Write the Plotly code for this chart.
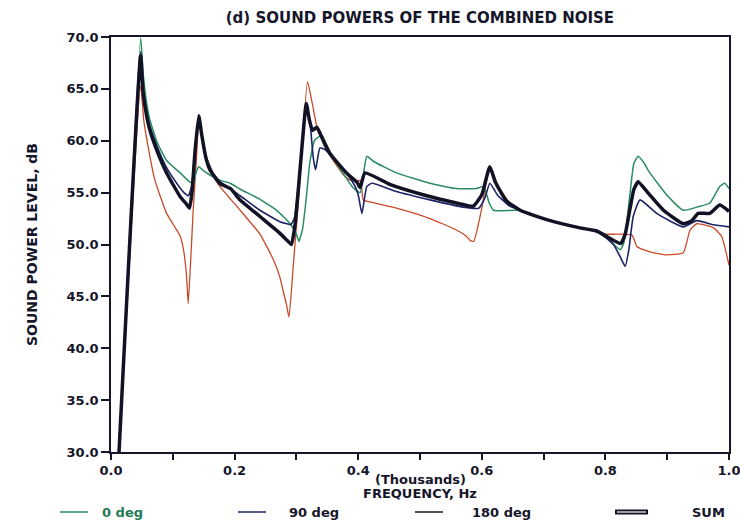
import plotly.graph_objects as go

# ---- data (frequency in thousands of Hz, sound power level in dB) ----
freq_0deg = [0.013, 0.048, 0.052, 0.058, 0.063, 0.075, 0.090, 0.110, 0.128, 0.133, 0.138, 0.142, 0.150,
             0.160, 0.176, 0.193, 0.210, 0.240, 0.270, 0.290, 0.300, 0.304, 0.310, 0.316, 0.322, 0.330,
             0.338, 0.345, 0.354, 0.375, 0.390, 0.403, 0.409, 0.414, 0.425, 0.462, 0.516, 0.559, 0.592,
             0.603, 0.612, 0.619, 0.662, 0.705, 0.759, 0.786, 0.805, 0.824, 0.830, 0.840, 0.846, 0.853,
             0.862, 0.872, 0.899, 0.926, 0.948, 0.969, 0.985, 0.993, 1.0]
spl_0deg = [30, 69.9, 66.5, 63.5, 62.0, 59.8, 58.1, 57.0, 56.0, 55.8, 57.0, 57.5, 57.1,
            56.7, 56.2, 55.9, 55.3, 54.4, 53.2, 52.0, 51.0, 50.3, 51.5, 54.5, 58.0, 60.1,
            60.4, 59.6, 58.8, 56.9, 55.6, 55.0, 57.0, 58.5, 58.0, 56.9, 55.9, 55.4, 55.4,
            55.6, 54.0, 53.3, 53.3, 52.4, 51.6, 51.2, 50.5, 49.5, 50.2, 55.0, 57.8, 58.5,
            57.9, 56.9, 54.8, 53.3, 53.6, 54.0, 55.6, 55.9, 55.4]

freq_90deg = [0.013, 0.048, 0.052, 0.058, 0.063, 0.075, 0.090, 0.110, 0.120, 0.125, 0.130, 0.136, 0.142,
              0.148, 0.155, 0.165, 0.176, 0.209, 0.241, 0.273, 0.285, 0.291, 0.297, 0.306, 0.316, 0.322,
              0.327, 0.331, 0.338, 0.345, 0.354, 0.381, 0.395, 0.400, 0.406, 0.414, 0.422, 0.462, 0.516,
              0.570, 0.595, 0.605, 0.613, 0.625, 0.645, 0.662, 0.705, 0.759, 0.786, 0.813, 0.824, 0.832,
              0.838, 0.845, 0.856, 0.883, 0.926, 0.948, 0.975, 1.0]
spl_90deg = [30, 68.6, 65.0, 62.6, 61.4, 59.4, 57.4, 55.6, 54.9, 54.7, 55.5, 58.5, 62.2,
             60.3, 58.3, 56.9, 56.1, 54.7, 53.3, 52.2, 52.0, 51.9, 52.6, 57.5, 63.4, 61.8,
             58.5, 57.2, 59.3, 59.2, 58.7, 56.9, 55.6, 54.8, 53.0, 55.6, 55.9, 55.1, 54.3,
             53.6, 53.5, 54.5, 55.9, 54.8, 53.7, 53.3, 52.4, 51.6, 51.3, 50.0, 48.8, 47.9,
             49.5, 52.7, 54.3, 53.0, 51.7, 52.3, 51.9, 51.7]

freq_180deg = [0.013, 0.048, 0.053, 0.058, 0.071, 0.090, 0.100, 0.112, 0.117, 0.121, 0.123, 0.125, 0.129,
               0.133, 0.138, 0.142, 0.148, 0.155, 0.165, 0.176, 0.193, 0.209, 0.241, 0.263, 0.273, 0.279,
               0.284, 0.288, 0.295, 0.305, 0.318, 0.326, 0.333, 0.345, 0.354, 0.375, 0.387, 0.404, 0.408,
               0.419, 0.462, 0.516, 0.559, 0.575, 0.581, 0.587, 0.600, 0.613, 0.625, 0.645, 0.662, 0.705,
               0.759, 0.786, 0.800, 0.843, 0.851, 0.872, 0.899, 0.926, 0.937, 0.948, 0.975, 0.988, 1.0]
spl_180deg = [30, 65.3, 62.0, 60.1, 56.2, 53.0, 52.0, 50.8, 49.6, 47.8, 46.3, 44.3, 48.5,
              53.3, 58.0, 62.0, 60.0, 58.0, 56.6, 55.6, 54.4, 53.3, 51.0, 48.5, 46.9, 45.4,
              44.2, 43.0, 48.0, 55.5, 65.7, 63.5, 61.4, 59.5, 58.6, 56.8, 56.2, 56.1, 54.3,
              54.1, 53.5, 52.5, 51.4, 50.8, 50.4, 50.3, 53.5, 57.5, 55.8, 54.0, 53.3, 52.4,
              51.6, 51.2, 51.0, 50.9, 49.8, 49.3, 49.0, 49.2, 51.4, 52.0, 51.6, 50.8, 48.0]

freq_sum = [0.013, 0.048, 0.052, 0.058, 0.063, 0.074, 0.090, 0.112, 0.122, 0.127, 0.131, 0.136, 0.142,
            0.147, 0.153, 0.160, 0.176, 0.193, 0.209, 0.241, 0.273, 0.285, 0.292, 0.298, 0.307, 0.316,
            0.321, 0.326, 0.333, 0.340, 0.354, 0.381, 0.398, 0.403, 0.411, 0.451, 0.505, 0.559, 0.586,
            0.600, 0.613, 0.622, 0.640, 0.662, 0.705, 0.759, 0.786, 0.813, 0.825, 0.832, 0.840, 0.846,
            0.853, 0.870, 0.894, 0.926, 0.940, 0.950, 0.969, 0.985, 1.0]
spl_sum = [30, 68.2, 64.6, 62.3, 61.0, 59.1, 56.9, 54.6, 53.9, 53.5, 55.0, 59.0, 62.4,
           60.5, 58.5, 57.2, 55.9, 55.4, 54.3, 52.7, 51.1, 50.4, 50.0, 52.0, 58.0, 63.6,
           62.0, 61.0, 61.3, 60.5, 58.8, 56.9, 56.0, 55.5, 56.9, 55.8, 54.8, 54.0, 53.7,
           54.8, 57.5, 56.0, 54.2, 53.3, 52.4, 51.6, 51.3, 50.4, 50.1, 51.0, 53.5, 55.3,
           56.05, 54.9, 53.3, 52.0, 52.3, 53.0, 53.0, 53.8, 53.2]

series_names = ["0 deg", "90 deg", "180 deg", "SUM"]

x_tick_vals = [0.0, 0.1, 0.2, 0.3, 0.4, 0.5, 0.6, 0.7, 0.8, 0.9, 1.0]
x_tick_text = ["0.0", "", "0.2", "", "0.4", "", "0.6", "", "0.8", "", "1.0"]

INK = "#16162a"
FONT = "DejaVu Sans"
C_0 = "#2a8c62"
C_90 = "#1c2466"
C_180 = "#c84a28"
C_SUM = "#121226"

# plot-area geometry in pixels (for placing the hand-drawn legend / titles)
W, H = 740, 524
L, R, T, B = 111, 11, 37, 72
PW, PH = W - L - R, H - T - B


def px(xp):
    return (xp - L) / PW


def py(yp):
    return (H - B - yp) / PH


SMOOTH = 0.45

fig = go.Figure()
fig.add_trace(go.Scatter(x=freq_180deg, y=spl_180deg, mode="lines", name=series_names[2],
                         line=dict(color=C_180, width=1.3, shape="spline", smoothing=SMOOTH)))
fig.add_trace(go.Scatter(x=freq_0deg, y=spl_0deg, mode="lines", name=series_names[0],
                         line=dict(color=C_0, width=1.5, shape="spline", smoothing=SMOOTH)))
fig.add_trace(go.Scatter(x=freq_90deg, y=spl_90deg, mode="lines", name=series_names[1],
                         line=dict(color=C_90, width=1.6, shape="spline", smoothing=SMOOTH)))
fig.add_trace(go.Scatter(x=freq_sum, y=spl_sum, mode="lines", name=series_names[3],
                         line=dict(color=C_SUM, width=3.5, shape="spline", smoothing=SMOOTH)))

# ---- legend row drawn by hand (line sample + label) ----
legend_y = py(512)
legend_items = [
    (series_names[0], C_0, 60, 88, 100, "#1f7a55", False),
    (series_names[1], C_90, 238, 266, 287, INK, False),
    (series_names[2], INK, 415, 443, 470, INK, False),
    (series_names[3], C_SUM, 615, 648, 690, INK, True),
]
shapes = []
annotations = []
for name, col, x0, x1, xt, tcol, double in legend_items:
    if double:
        shapes.append(dict(type="line", xref="paper", yref="paper", x0=px(x0), x1=px(x1),
                           y0=legend_y, y1=legend_y, line=dict(color=col, width=5)))
        shapes.append(dict(type="line", xref="paper", yref="paper", x0=px(x0 + 2), x1=px(x1 - 2),
                           y0=legend_y, y1=legend_y, line=dict(color="white", width=1.2)))
    else:
        shapes.append(dict(type="line", xref="paper", yref="paper", x0=px(x0), x1=px(x1),
                           y0=legend_y, y1=legend_y, line=dict(color=col, width=1.5)))
    annotations.append(dict(text=name, xref="paper", yref="paper", x=px(xt), y=legend_y,
                            xanchor="left", yanchor="middle", showarrow=False,
                            font=dict(family=FONT, size=13, color=tcol, weight="bold")))

# x-axis title (two tightly spaced lines)
annotations.append(dict(text="(Thousands)", xref="paper", yref="paper", x=0.5, y=py(479),
                        xanchor="center", yanchor="middle", showarrow=False,
                        font=dict(family=FONT, size=13, color=INK, weight="bold")))
annotations.append(dict(text="FREQUENCY, Hz", xref="paper", yref="paper", x=0.5, y=py(493),
                        xanchor="center", yanchor="middle", showarrow=False,
                        font=dict(family=FONT, size=13, color=INK, weight="bold")))

fig.update_layout(
    width=W, height=H,
    margin=dict(l=L, r=R, t=T, b=B, autoexpand=False),
    paper_bgcolor="white", plot_bgcolor="white",
    font=dict(family=FONT, size=13, color=INK, weight="bold"),
    title=dict(text="(d) SOUND POWERS OF THE COMBINED NOISE",
               x=0.5675, xanchor="center", y=0.966, yanchor="middle",
               font=dict(family=FONT, size=15, color=INK, weight="bold")),
    showlegend=False,
    shapes=shapes,
    annotations=annotations,
)

fig.update_xaxes(range=[0, 1.0], tickvals=x_tick_vals, ticktext=x_tick_text,
                 ticks="outside", ticklen=6, tickwidth=1.5, tickcolor=INK,
                 ticklabeloverflow="allow",
                 showline=True, linecolor=INK, linewidth=1.5, mirror=True,
                 showgrid=False, zeroline=False)
fig.update_yaxes(range=[30, 70], dtick=5, tick0=30, tickformat=".1f",
                 ticks="outside", ticklen=8, tickwidth=1.5, tickcolor=INK,
                 showline=True, linecolor=INK, linewidth=1.5, mirror=True,
                 showgrid=False, zeroline=False,
                 title=dict(text="SOUND POWER LEVEL, dB", standoff=26,
                            font=dict(family=FONT, size=14, color=INK, weight="bold")))

fig.write_html("out.html")
